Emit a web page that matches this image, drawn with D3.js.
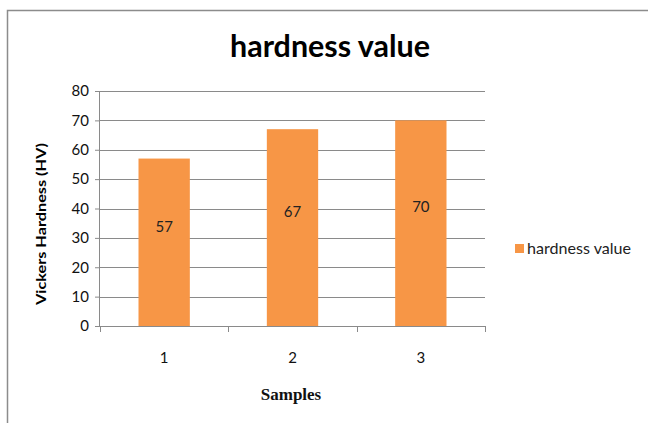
<!DOCTYPE html>
<html>
<head>
<meta charset="utf-8">
<script src="https://cdn.jsdelivr.net/npm/d3@7"></script>
<style>
  body { margin: 0; background: #fff; }
  svg text { font-family: "Lato", "DejaVu Sans", sans-serif; }
</style>
</head>
<body>
<div id="content"></div>
<script>
// data
var samples = ["1", "2", "3"];
var hardness = [57, 67, 70];
var yTicks = [0, 10, 20, 30, 40, 50, 60, 70, 80];
var seriesName = "hardness value";

var W = 648, H = 423;
var orange = "#F79646";
var gridCol = "#8a8a8a";

var margin = {top: 91, left: 100, right: 163, bottom: 97};
var width = W - margin.left - margin.right,
    height = H - margin.top - margin.bottom;

var svg = d3.select("#content").append("svg")
    .attr("width", W)
    .attr("height", H);

// frame of the chart object (right/bottom are cut off in the picture)
svg.append("path")
    .attr("d", "M7.5," + H + "V10.5H" + W)
    .attr("fill", "none")
    .attr("stroke", "#8c8c8c")
    .attr("stroke-width", 1.5);

var x = d3.scaleBand()
    .domain(samples)
    .range([0, width])
    .paddingInner(0.6)
    .paddingOuter(0.3);

var y = d3.scaleLinear()
    .domain([0, 80])
    .range([height, 0]);

var g = svg.append("g")
    .attr("transform", "translate(" + margin.left + "," + margin.top + ")");

// gridlines
g.selectAll(".grid")
    .data(yTicks.slice(1))
  .enter().append("line")
    .attr("x1", 0).attr("x2", width)
    .attr("y1", function(d) { return Math.round(y(d)) + 0.5; })
    .attr("y2", function(d) { return Math.round(y(d)) + 0.5; })
    .attr("stroke", gridCol);

// bars
g.selectAll(".bar")
    .data(hardness)
  .enter().append("rect")
    .attr("x", function(d, i) { return x(samples[i]); })
    .attr("y", function(d) { return y(d); })
    .attr("width", x.bandwidth())
    .attr("height", function(d) { return height - y(d); })
    .attr("fill", orange);

// data labels
g.selectAll(".lbl")
    .data(hardness)
  .enter().append("text")
    .attr("x", function(d, i) { return x(samples[i]) + x.bandwidth() / 2; })
    .attr("y", function(d) { return (y(d) + height) / 2 - 16; })
    .attr("text-anchor", "middle")
    .attr("dy", "0.35em")
    .style("font-size", "15px")
    .style("fill", "#222")
    .text(function(d) { return d; });

// y axis
var yAxis = g.append("g")
    .call(d3.axisLeft(y).tickValues(yTicks).tickSize(5).tickPadding(6));
yAxis.select(".domain").attr("stroke", gridCol).attr("d", "M-0.5," + height + "V0");
yAxis.selectAll(".tick line").attr("stroke", gridCol);
yAxis.selectAll(".tick text").style("font-size", "15px").style("fill", "#111")
    .style("font-family", "Lato, sans-serif");

// x axis: ticks between categories like Excel
var xAxis = g.append("g")
    .attr("transform", "translate(0," + height + ")");
xAxis.append("line")
    .attr("x1", 0).attr("x2", width)
    .attr("y1", 0.5).attr("y2", 0.5)
    .attr("stroke", gridCol);
xAxis.selectAll(".xt")
    .data(d3.range(samples.length + 1))
  .enter().append("line")
    .attr("x1", function(i) { return Math.round(i * x.step()) + 0.5; })
    .attr("x2", function(i) { return Math.round(i * x.step()) + 0.5; })
    .attr("y1", 0).attr("y2", 6)
    .attr("stroke", gridCol);
xAxis.selectAll(".xl")
    .data(samples)
  .enter().append("text")
    .attr("x", function(d) { return x(d) + x.bandwidth() / 2; })
    .attr("y", 37)
    .attr("text-anchor", "middle")
    .style("font-size", "15px")
    .style("fill", "#111")
    .text(function(d) { return d; });

// title
svg.append("text")
    .attr("x", 330)
    .attr("y", 57)
    .attr("text-anchor", "middle")
    .attr("textLength", 200)
    .attr("lengthAdjust", "spacingAndGlyphs")
    .style("font-size", "30px")
    .style("font-weight", "bold")
    .style("fill", "#000")
    .text("hardness value");

// axis titles
svg.append("text")
    .attr("transform", "translate(46,224) rotate(-90)")
    .attr("text-anchor", "middle")
    .attr("textLength", 162)
    .attr("lengthAdjust", "spacingAndGlyphs")
    .style("font-size", "14px")
    .style("font-weight", "bold")
    .style("fill", "#000")
    .text("Vickers Hardness (HV)");

svg.append("text")
    .attr("x", 291)
    .attr("y", 400)
    .attr("text-anchor", "middle")
    .style("font-family", "'Liberation Serif', serif")
    .style("font-size", "17px")
    .style("font-weight", "bold")
    .style("fill", "#111")
    .text("Samples");

// legend
var leg = svg.append("g").attr("transform", "translate(515,244)");
leg.append("rect")
    .attr("width", 9).attr("height", 9)
    .attr("fill", orange);
leg.append("text")
    .attr("x", 12).attr("y", 5)
    .attr("dy", "0.35em")
    .attr("textLength", 104)
    .attr("lengthAdjust", "spacingAndGlyphs")
    .style("font-size", "15px")
    .style("fill", "#222")
    .text(seriesName);
</script>
</body>
</html>
